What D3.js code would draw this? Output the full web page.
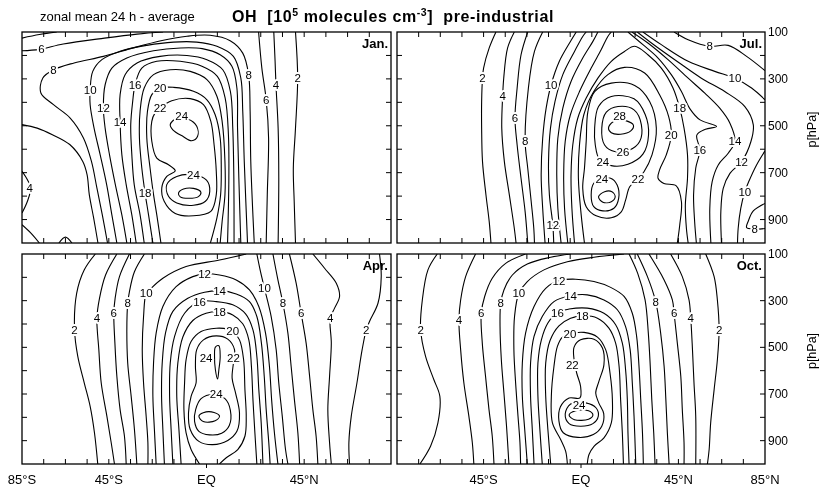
<!DOCTYPE html>
<html>
<head>
<meta charset="utf-8">
<script src="https://cdn.jsdelivr.net/npm/d3@7"></script>
<style>
  body { margin: 0; background: #fff; }
  svg { display: block; font-family: "Liberation Sans", Arial, Helvetica, sans-serif; filter: grayscale(1); }
</style>
</head>
<body>
<svg id="chart" width="821" height="487"></svg>
<script>
// OH zonal mean, pre-industrial: isolines (10^5 molecules cm^-3) given as
// [latitude (deg, south negative), pressure (hPa)] points.
// "at" lists where the isoline value is written.

const janContours = [
  {level: 4, pts: [[-85,126],[-77,111],[-69,100]]},
  {level: 6, pts: [[-85,180],[-77,174],[-66,151],[-47,126],[-32,109],[-20,100]], at: [[-76,172]]},
  {level: 6, pts: [[-85,495],[-78,510],[-71,538],[-63,580],[-57,652],[-55,709],[-54,794],[-52,893],[-50,1000]]},
  {level: 4, pts: [[-85,694],[-82.5,730],[-81,765],[-82.5,822],[-85,872]], at: [[-81.5,765]]},
  {level: 4, pts: [[-85,922],[-81,957],[-77,1000]]},
  {level: 4, pts: [[-68,1000],[-65,975],[-62,1000]]},
  {level: 8, pts: [[-45.6,1000],[-48,880],[-50.5,765],[-53,652],[-56.7,552],[-62.8,467],[-70.5,410],[-76.3,360],[-75.4,296],[-70.5,261],[-61,232],[-47.5,204],[-35,171],[-21,137],[-9,118],[1.7,114],[10.9,137],[16.7,190],[19.4,282],[20.1,438],[20.4,652],[22,1000]], at: [[-70.5,261],[19.4,282]]},
  {level: 10, pts: [[-41.3,1000],[-43.6,880],[-46,751],[-49,623],[-51.8,510],[-53.6,410],[-53.6,346],[-52.4,268],[-48.2,218],[-39.8,182],[-27.5,157],[-15.2,143],[-4.5,143],[4.8,161],[12.4,204],[15.8,296],[16.7,438],[17.4,652],[18.9,1000]], at: [[-53.6,346]]},
  {level: 12, pts: [[-36.7,1000],[-39,880],[-42,751],[-44.7,623],[-46.7,510],[-47.5,424],[-46.7,325],[-43.6,254],[-36.7,211],[-24.4,180],[-12,168],[-2,171],[6.3,197],[11.7,246],[14,339],[14.3,510],[14.9,723],[15.8,1000]], at: [[-47.5,424]]},
  {level: 14, pts: [[-32.4,1000],[-34.4,880],[-37,751],[-39,623],[-39.8,484],[-39.8,367],[-37.5,282],[-32,232],[-21.4,204],[-9,200],[0.2,218],[7.5,261],[11,353],[12.1,510],[12.6,723],[12.7,1000]], at: [[-39.8,484]]},
  {level: 16, pts: [[-28.7,1000],[-30.6,880],[-33.3,751],[-34.4,623],[-34.9,495],[-34,396],[-32.9,325],[-29.8,254],[-22.9,225],[-12.1,225],[-2.1,246],[5,289],[8.6,382],[10.1,538],[10.3,723],[9.7,1000]], at: [[-32.9,325]]},
  {level: 18, pts: [[-24.7,1000],[-26.7,880],[-28.3,787],[-29.8,680],[-30.9,552],[-30.6,438],[-28.7,339],[-24.4,282],[-16.7,261],[-7.5,268],[0.2,303],[4.8,374],[7.2,481],[8.5,652],[8.5,794],[7.2,908],[6.3,1000]], at: [[-28.3,787]]},
  {level: 20, pts: [[-21,1000],[-22.9,880],[-24.4,794],[-26,680],[-27.5,552],[-27.2,438],[-25.2,367],[-21.4,339],[-15.2,336],[-6,353],[0.2,389],[4,453],[6.3,552],[6.8,680],[6.5,794],[4.8,893],[1.8,1000]], at: [[-21.4,339]]},
  {level: 22, closed: true, pts: [[-21.4,424],[-16,393],[-7.5,384],[-1.4,410],[2,481],[3.5,581],[4.5,694],[4.5,794],[2,865],[-6,884],[-14.4,874],[-19.5,822],[-20.6,765],[-18.3,716],[-14.4,692],[-17.5,666],[-22.9,638],[-25.2,566],[-25.2,481],[-23.7,445]], at: [[-21.4,424]]},
  {level: 24, closed: true, pts: [[-16.7,495],[-13.7,468],[-8.3,472],[-4.5,502],[-4.1,545],[-6.8,564],[-10.9,545],[-15.5,517]], at: [[-11.4,458]]},
  {level: 24, closed: true, pts: [[-18.3,751],[-13.7,716],[-6,709],[0,732],[1.5,780],[-0.5,822],[-6,839],[-13.7,829],[-17.5,801]], at: [[-6,711]]},
  {level: 26, closed: true, pts: [[-12.9,787],[-10.6,770],[-6,767],[-2.6,783],[-3.7,802],[-8.3,809],[-12.1,803]]},
  {level: 6, pts: [[24,100],[25.5,254],[27.5,389],[28.6,552],[28,794],[27.5,1000]], at: [[27.5,389]]},
  {level: 4, pts: [[31,100],[31.6,225],[32,325],[33,510],[33.3,723],[33,1000]], at: [[32,325]]},
  {level: 2, pts: [[41,100],[42,296],[41,510],[40,680],[40.4,822],[41,1000]], at: [[42,296]]}
];

const julContours = [
  {level: 2, pts: [[-39.3,100],[-42.4,168],[-45,254],[-45.5,297],[-45.9,396],[-45.9,510],[-45.5,653],[-43.9,795],[-42.4,909],[-41.6,1000]], at: [[-45.5,297]]},
  {level: 4, pts: [[-30.8,100],[-33.9,168],[-35.7,297],[-36.2,375],[-36.6,510],[-35.4,653],[-33.1,795],[-30.8,938],[-30,1000]], at: [[-36.2,375]]},
  {level: 6, pts: [[-24.6,100],[-27.7,197],[-29.5,339],[-30.5,468],[-29.5,582],[-27.7,724],[-25.8,867],[-24.6,1000]], at: [[-30.5,468]]},
  {level: 8, pts: [[-17.7,100],[-21.5,183],[-24.3,339],[-25.8,567],[-24.6,681],[-23,824],[-21.8,938],[-21.5,1000]], at: [[-25.8,567]]},
  {level: 10, pts: [[-16.6,1000],[-17.7,852],[-18.4,710],[-17.7,553],[-16.1,425],[-13.8,325],[-10,225],[-5.3,147],[-2.2,100]], at: [[-13.8,325]]},
  {level: 12, pts: [[-12.6,1000],[-13,924],[-14.6,795],[-15,653],[-14.1,510],[-12,396],[-8.4,282],[-3,183],[0.8,119],[2.4,100]], at: [[-13,924]]},
  {level: 14, pts: [[-9.2,1000],[-10.7,852],[-11.2,710],[-10.7,553],[-8.4,425],[-4.6,311],[0.8,211],[5.5,140],[7.8,100]]},
  {level: 16, pts: [[-6.1,1000],[-7.6,852],[-8,710],[-7.3,567],[-4.9,453],[-0.7,354],[4.7,254],[9.3,176],[12.4,119],[14,100]]},
  {level: 18, pts: [[-3,1000],[-4.2,852],[-4.6,710],[-3.8,582],[-1.5,468],[2.4,382],[7.8,297],[14,225],[20.1,183],[24.8,161],[30.9,197],[37.1,254],[42.5,339],[45.6,425],[47.6,510],[49.2,624],[49.2,724],[48.2,838],[48.7,938],[49.5,1000]], at: [[45.6,425]]},
  {level: 20, pts: [[1.6,1000],[0.1,881],[-1.2,724],[-0.7,582],[1.3,453],[5.9,354],[12.4,282],[20.1,251],[29.4,275],[36.3,368],[40.5,461],[41.7,539],[39.4,624],[36.3,688],[35.6,724],[38.3,746],[44,756],[46.4,824],[45.6,924],[44.5,1000]], at: [[41.7,539]]},
  {level: 22, closed: true, pts: [[3.2,439],[6.3,354],[14,318],[24.8,328],[31.7,396],[34.8,510],[32.8,624],[29.1,696],[26.3,727],[22.5,760],[20.6,817],[18.6,867],[14,892],[7,884],[2.4,845],[0.8,767],[1.6,681],[2.4,567]], at: [[26.3,727]]},
  {level: 24, closed: true, pts: [[6.3,510],[8.1,418],[14,375],[24.5,385],[29.7,453],[31.2,539],[28.6,621],[21.7,664],[14,670],[8.6,645],[6.6,582]], at: [[10.1,653]]},
  {level: 26, closed: true, pts: [[9.6,510],[11.7,442],[17.1,418],[24.5,432],[27.9,496],[27.1,567],[22.5,603],[15.5,610],[10.9,582]], at: [[19.4,610]]},
  {level: 28, closed: true, pts: [[12.7,510],[15,482],[17.8,474],[20.4,477],[24.2,497],[23,522],[18.3,536],[14,530]], at: [[17.8,458]]},
  {level: 24, closed: true, pts: [[4.7,795],[5.9,745],[9.3,727],[13.7,724],[16.7,753],[17.4,810],[15.2,852],[10.1,863],[5.9,845]], at: [[9.6,728]]},
  {level: 26, closed: true, pts: [[8.1,803],[10.9,781],[14.3,781],[15.8,803],[14,824],[10.1,826]]},
  {level: 16, pts: [[21.7,100],[28.6,154],[35.6,211],[41.7,282],[46.4,354],[50.5,430],[55,475],[62.6,503],[57.5,515],[53.5,540],[54.9,603],[53,681],[52,795],[52.5,909],[53.3,1000]], at: [[54.9,603]]},
  {level: 14, pts: [[23.5,100],[30.9,147],[40.2,218],[49.5,297],[57.2,361],[64.1,425],[68.8,489],[71.1,567],[68,617],[63.4,667],[60.6,738],[59.5,852],[60,1000]], at: [[71.1,567]]},
  {level: 12, pts: [[26,100],[33,150],[44.8,228],[55.6,297],[66.4,354],[75.7,418],[79.6,496],[78.5,567],[74.2,653],[68.8,703],[65.7,767],[64.6,867],[64.9,1000]], at: [[74.2,653]]},
  {level: 10, pts: [[28.6,100],[37.1,154],[49.5,225],[61.8,268],[71.1,297],[78.8,339],[85,389]], at: [[71.1,297]]},
  {level: 10, pts: [[85,607],[81.1,667],[77.5,738],[75.7,781],[73.8,852],[72.6,938],[72.3,1000]], at: [[75.7,781]]},
  {level: 8, pts: [[43,100],[49.5,133],[59.5,161],[68,157],[76.5,204],[85,265]], at: [[59.5,161]]},
  {level: 8, pts: [[85,831],[79.6,863],[77.3,906],[76.5,934],[80,941],[85,938]], at: [[80.3,941]]}
];

const aprContours = [
  {level: 2, pts: [[-51.2,100],[-56.3,168],[-59.8,268],[-60.8,425],[-59.3,539],[-56.3,653],[-53.6,753],[-51.6,867],[-50.1,1000]], at: [[-60.8,425]]},
  {level: 4, pts: [[-41.3,100],[-46.5,190],[-49.3,290],[-50.5,375],[-49.6,510],[-48.5,653],[-45.9,795],[-43.9,909],[-42.4,1000]], at: [[-50.5,375]]},
  {level: 6, pts: [[-35.5,100],[-40.1,197],[-42.1,290],[-42.7,354],[-42.2,482],[-41.3,624],[-39.8,767],[-37.8,881],[-37,1000]], at: [[-42.7,354]]},
  {level: 8, pts: [[-28.6,100],[-33.2,176],[-35.5,261],[-36.3,311],[-36.7,425],[-36.3,567],[-34.7,710],[-33.2,852],[-32.1,1000]], at: [[-36.3,311]]},
  {level: 10, pts: [[18.3,100],[6,126],[-9.4,154],[-20.1,204],[-26.3,254],[-27.8,268],[-29,368],[-29.6,510],[-29,653],[-27.8,795],[-27,909],[-27,1000]], at: [[-27.8,268]]},
  {level: 12, pts: [[-23.2,1000],[-24,852],[-24.7,710],[-24.4,567],[-23.2,439],[-20.1,325],[-14,240],[-6.3,197],[-0.9,185],[6,190],[13.7,211],[19.8,254],[24.1,325],[27.2,439],[29,582],[30,724],[31.3,867],[32.9,1000]], at: [[-0.9,185]]},
  {level: 14, pts: [[-19.4,1000],[-20.1,852],[-20.7,710],[-20.4,567],[-18.9,439],[-15.5,346],[-8.6,290],[-0.9,264],[6,257],[13.7,271],[19.8,304],[23.2,368],[25.3,482],[26.6,624],[27.5,767],[28.7,909],[29.3,1000]], at: [[6,257]]},
  {level: 16, pts: [[-15.5,1000],[-16.3,852],[-17,710],[-16.7,567],[-14.7,453],[-10.1,354],[-3.2,304],[4.5,304],[12.1,318],[18,357],[21.4,425],[23.2,539],[24.1,681],[25.2,824],[26,1000]], at: [[-3.2,304]]},
  {level: 18, pts: [[-11.7,1000],[-12.7,852],[-13.7,710],[-13.2,567],[-10.9,456],[-6.3,385],[-0.2,354],[6,347],[12.1,361],[16.7,399],[19.5,468],[20.7,582],[21.4,724],[22.3,867],[23.2,1000]], at: [[6,347]]},
  {level: 20, pts: [[-3.2,1000],[-7.1,938],[-9.4,867],[-10.4,767],[-10.1,653],[-9.4,553],[-7.1,475],[-2.5,432],[4.5,418],[9.8,422],[12.1,432],[15.2,468],[17.1,553],[17.7,681],[18.3,795],[17.7,881],[14.4,938],[9.1,973],[6,1000]], at: [[12.1,432]]},
  {level: 22, closed: true, pts: [[-4.5,510],[-1.4,468],[4.5,451],[9.8,465],[12.9,510],[12.4,567],[11.8,632],[13.4,696],[15.2,781],[14,860],[9.8,899],[2.9,917],[-3.5,903],[-7.5,852],[-8.3,781],[-7.1,710],[-4.8,653],[-5.1,582]], at: [[12.4,546]]},
  {level: 24, closed: true, pts: [[4.1,499],[5.7,493],[6.3,539],[5.7,596],[5.1,636],[4.1,596],[3.7,539]], at: [[-0.2,546]]},
  {level: 24, closed: true, pts: [[-5,767],[-2.5,720],[3,702],[8.5,720],[11,770],[10.5,835],[7,868],[1.4,875],[-3.5,860],[-5.5,817]], at: [[4.5,700]]},
  {level: 26, closed: true, pts: [[-3.5,795],[-1.5,780],[3.5,779],[6,795],[4,815],[-1.5,818]]},
  {level: 10, pts: [[23.2,100],[24.7,168],[26.7,247],[29.8,368],[32.1,510],[33.3,653],[34.9,795],[36.4,938],[37.5,1000]], at: [[26.7,247]]},
  {level: 8, pts: [[30.6,100],[32.9,211],[35.2,311],[37.5,439],[39,582],[40.5,724],[42.1,867],[42.9,1000]], at: [[35.2,311]]},
  {level: 6, pts: [[38.2,100],[41.3,225],[43.6,354],[45.9,482],[47.5,624],[49,767],[50.5,881],[51.3,1000]], at: [[43.6,354]]},
  {level: 4, pts: [[49,100],[54.4,161],[59.8,225],[61.3,282],[59,332],[57,375],[57.5,482],[56.7,624],[55.9,767],[56.7,909],[57.5,1000]], at: [[57,375]]},
  {level: 2, pts: [[79.7,100],[80.5,197],[79,311],[75.1,389],[73.6,425],[71.7,510],[69.3,653],[66.7,795],[65.6,909],[65.9,1000]], at: [[73.6,425]]}
];

const octContours = [
  {level: 2, pts: [[-66.4,100],[-70.7,168],[-73.3,297],[-74.1,425],[-71.8,539],[-68,638],[-65.2,710],[-66.1,824],[-69.5,924],[-74.4,1000]], at: [[-74.1,425]]},
  {level: 4, pts: [[-48.7,100],[-53.3,197],[-55.6,297],[-56.4,382],[-55.6,510],[-54.1,653],[-51.8,795],[-50.2,909],[-49.5,1000]], at: [[-56.4,382]]},
  {level: 6, pts: [[-25.6,100],[-34.8,140],[-41,204],[-44.5,282],[-46.1,354],[-45.6,482],[-44.1,624],[-42.5,767],[-41,881],[-40.2,1000]], at: [[-46.1,354]]},
  {level: 8, pts: [[-4.8,100],[-14,114],[-24.8,143],[-31.7,190],[-35.6,254],[-37.1,311],[-37.4,411],[-36.8,553],[-35.6,696],[-34.4,838],[-33.3,1000]], at: [[-37.1,311]]},
  {level: 10, pts: [[19.9,100],[6,114],[-6.3,133],[-17.1,168],[-24.8,218],[-28.7,268],[-30.7,368],[-31,510],[-30.2,653],[-29.1,795],[-28.2,909],[-27.9,1000]], at: [[-28.7,268]]},
  {level: 12, pts: [[-24.8,1000],[-26,852],[-27.1,710],[-27.1,567],[-25.6,439],[-21.7,325],[-16.3,247],[-10.2,214],[-2.5,208],[6,218],[13.7,243],[19.9,282],[23.7,354],[25.7,453],[26.8,582],[27.6,724],[28.4,867],[28.8,1000]], at: [[-10.2,214]]},
  {level: 14, pts: [[-21.7,1000],[-22.5,852],[-23.3,710],[-23.3,567],[-21.7,453],[-17.9,368],[-12.5,304],[-4.8,279],[2.9,275],[10.6,297],[16.8,339],[20.6,411],[22.7,510],[23.7,653],[24.5,795],[25.3,1000]], at: [[-4.8,279]]},
  {level: 16, pts: [[-17.9,1000],[-19,852],[-19.9,710],[-19.9,567],[-18.3,468],[-15.3,396],[-10.9,351],[-5.5,336],[2.9,332],[10.6,354],[16,403],[19.1,482],[20.6,596],[21.4,724],[21.7,867],[22.2,1000]], at: [[-10.9,351]]},
  {level: 18, pts: [[-14,1000],[-15.3,852],[-16.3,710],[-16.3,567],[-14.3,471],[-10.2,408],[-4.8,375],[0.6,365],[7.6,375],[12.9,418],[16,482],[17.6,582],[18.3,724],[19.1,867],[19.6,1000]], at: [[0.6,365]]},
  {level: 20, pts: [[-6.3,1000],[-7.1,945],[-9.4,895],[-13.2,824],[-13.7,710],[-12.5,582],[-10.9,496],[-8.6,456],[-5.1,442],[1.4,436],[7.6,456],[11.4,510],[13.4,610],[14.5,724],[14,824],[10.6,888],[6,924],[3.7,959],[2.9,1000]], at: [[-5.1,442]]},
  {level: 22, closed: true, pts: [[-3.2,499],[-0.2,468],[6,465],[9.9,503],[10.6,574],[8.3,645],[6.8,696],[8.2,738],[10.5,784],[9.6,838],[5.7,874],[-1.4,886],[-8.2,866],[-10.2,815],[-9.5,755],[-5.5,717],[-0.5,717],[-0.2,667],[-2,610],[-3.2,553]], at: [[-4,575]]},
  {level: 24, closed: true, pts: [[-7.3,786],[-4.8,743],[2.2,738],[7,760],[8,795],[5.5,827],[-0.2,838],[-5.5,827]], at: [[-0.9,748]]},
  {level: 26, closed: true, pts: [[-5.5,790],[-2.5,772],[3.5,772],[5.5,790],[3.5,808],[-3,810]]},
  {level: 10, pts: [[22.2,100],[26.2,183],[29.6,297],[31.1,439],[32,582],[32.7,724],[33.6,867],[34.2,1000]]},
  {level: 8, pts: [[26,100],[30.7,197],[34.5,304],[36.8,439],[38.4,582],[39.2,724],[39.9,867],[40.7,1000]], at: [[34.5,304]]},
  {level: 6, pts: [[31.4,100],[38.4,211],[42.2,297],[43,354],[44.5,482],[46.1,624],[46.8,767],[47.6,909],[47.6,1000]], at: [[43,354]]},
  {level: 4, pts: [[41.4,100],[46.8,197],[49.9,297],[50.7,375],[51.5,510],[52.2,653],[53,795],[53,1000]], at: [[50.7,375]]},
  {level: 2, pts: [[57.6,100],[61.5,197],[63,297],[63.8,425],[63,553],[61.5,681],[59.9,824],[59.2,938],[58.4,1000]], at: [[63.8,425]]}
];

const months = ["Jan.", "Jul.", "Apr.", "Oct."];
const latTicks = [-75, -65, -55, -45, -35, -25, -15, -5, 5, 15, 25, 35, 45, 55, 65, 75];
const pressureTicks = [200, 300, 400, 500, 600, 700, 800, 900];
const pressureLabels = [100, 300, 500, 700, 900];
const latLabelsLeft = [[-85, "85°S"], [-45, "45°S"], [0, "EQ"], [45, "45°N"]];
const latLabelsRight = [[-45, "45°S"], [0, "EQ"], [45, "45°N"], [85, "85°N"]];

// panel frames in page pixels
const panels = [
  {month: months[0], data: janContours, x0: 22,  x1: 391, y0: 32,  y1: 243, rightAxis: false, bottomAxis: null},
  {month: months[1], data: julContours, x0: 397, x1: 765, y0: 32,  y1: 243, rightAxis: true,  bottomAxis: null},
  {month: months[2], data: aprContours, x0: 22,  x1: 391, y0: 254, y1: 464, rightAxis: false, bottomAxis: latLabelsLeft},
  {month: months[3], data: octContours, x0: 397, x1: 765, y0: 254, y1: 464, rightAxis: true,  bottomAxis: latLabelsRight}
];

const svg = d3.select("#chart");

// headings
svg.append("text")
  .attr("x", 40).attr("y", 21)
  .attr("font-size", 13)
  .text("zonal mean 24 h - average");

const title = svg.append("text")
  .attr("x", 232).attr("y", 22)
  .attr("font-size", 16).attr("font-weight", "bold")
  .attr("letter-spacing", 0.6)
  .style("white-space", "pre");
title.append("tspan").text("OH  [10");
title.append("tspan").attr("dy", -6).attr("font-size", 10.5).text("5");
title.append("tspan").attr("dy", 6).text(" molecules cm");
title.append("tspan").attr("dy", -6).attr("font-size", 10.5).text("-3");
title.append("tspan").attr("dy", 6).text("]  pre-industrial");

panels.forEach((P, i) => {
  const x = d3.scaleLinear().domain([-85, 85]).range([P.x0, P.x1]);
  const y = d3.scaleLinear().domain([100, 1000]).range([P.y0, P.y1]);
  const g = svg.append("g");

  const clipId = "clip" + i;
  svg.append("clipPath").attr("id", clipId)
    .append("rect")
    .attr("x", P.x0).attr("y", P.y0)
    .attr("width", P.x1 - P.x0).attr("height", P.y1 - P.y0);

  const openLine = d3.line().x(d => x(d[0])).y(d => y(d[1]))
    .curve(d3.curveCatmullRom.alpha(0.5));
  const closedLine = d3.line().x(d => x(d[0])).y(d => y(d[1]))
    .curve(d3.curveCatmullRomClosed.alpha(0.5));

  g.append("g").attr("clip-path", `url(#${clipId})`)
    .selectAll("path")
    .data(P.data)
    .join("path")
    .attr("d", d => (d.closed ? closedLine : openLine)(d.pts))
    .attr("fill", "none")
    .attr("stroke", "#000")
    .attr("stroke-width", 1.1)
    .attr("stroke-linejoin", "round");

  // isoline values: a white knock-out under each number, then the number
  const labels = P.data.flatMap(d => (d.at || []).map(a => ({level: d.level, lat: a[0], p: a[1]})));
  const lab = g.append("g");
  lab.selectAll("text.halo")
    .data(labels)
    .join("text")
    .attr("class", "halo")
    .attr("x", d => x(d.lat))
    .attr("y", d => y(d.p))
    .attr("text-anchor", "middle")
    .attr("dominant-baseline", "central")
    .attr("font-size", 11.5)
    .attr("fill", "none")
    .attr("stroke", "#fff")
    .attr("stroke-width", 4)
    .attr("stroke-linejoin", "round")
    .text(d => d.level);
  lab.selectAll("text.val")
    .data(labels)
    .join("text")
    .attr("class", "val")
    .attr("x", d => x(d.lat))
    .attr("y", d => y(d.p))
    .attr("text-anchor", "middle")
    .attr("dominant-baseline", "central")
    .attr("font-size", 11.5)
    .attr("fill", "#000")
    .text(d => d.level);

  // inward ticks
  const tk = 5;
  const ticks = g.append("g").attr("stroke", "#000").attr("stroke-width", 1);
  latTicks.forEach(t => {
    ticks.append("line").attr("x1", x(t)).attr("x2", x(t)).attr("y1", P.y0).attr("y2", P.y0 + tk);
    ticks.append("line").attr("x1", x(t)).attr("x2", x(t)).attr("y1", P.y1).attr("y2", P.y1 - tk);
  });
  pressureTicks.forEach(t => {
    ticks.append("line").attr("x1", P.x0).attr("x2", P.x0 + tk).attr("y1", y(t)).attr("y2", y(t));
    ticks.append("line").attr("x1", P.x1).attr("x2", P.x1 - tk).attr("y1", y(t)).attr("y2", y(t));
  });

  // frame
  g.append("rect")
    .attr("x", P.x0).attr("y", P.y0)
    .attr("width", P.x1 - P.x0).attr("height", P.y1 - P.y0)
    .attr("fill", "none").attr("stroke", "#000").attr("stroke-width", 1.3);

  // month
  g.append("text")
    .attr("x", P.x1 - 3).attr("y", P.y0 + 16)
    .attr("text-anchor", "end")
    .attr("font-size", 13).attr("font-weight", "bold")
    .text(P.month);

  // pressure axis on the right-hand panels
  if (P.rightAxis) {
    pressureLabels.forEach(t => {
      g.append("text")
        .attr("x", P.x1 + 3).attr("y", y(t))
        .attr("dominant-baseline", "central")
        .attr("font-size", 12)
        .text(t);
    });
    const cy = (P.y0 + P.y1) / 2 - 8;
    g.append("text")
      .attr("transform", `translate(816,${cy}) rotate(-90)`)
      .attr("text-anchor", "middle")
      .attr("font-size", 12.5)
      .text("p[hPa]");
  }

  // latitude axis under the lower panels
  if (P.bottomAxis) {
    ticks.append("line").attr("x1", x(0)).attr("x2", x(0)).attr("y1", P.y1).attr("y2", P.y1 + 4);
    P.bottomAxis.forEach(([lat, txt]) => {
      g.append("text")
        .attr("x", x(lat)).attr("y", 484)
        .attr("text-anchor", "middle")
        .attr("font-size", 13)
        .text(txt);
    });
  }
});
</script>
</body>
</html>
